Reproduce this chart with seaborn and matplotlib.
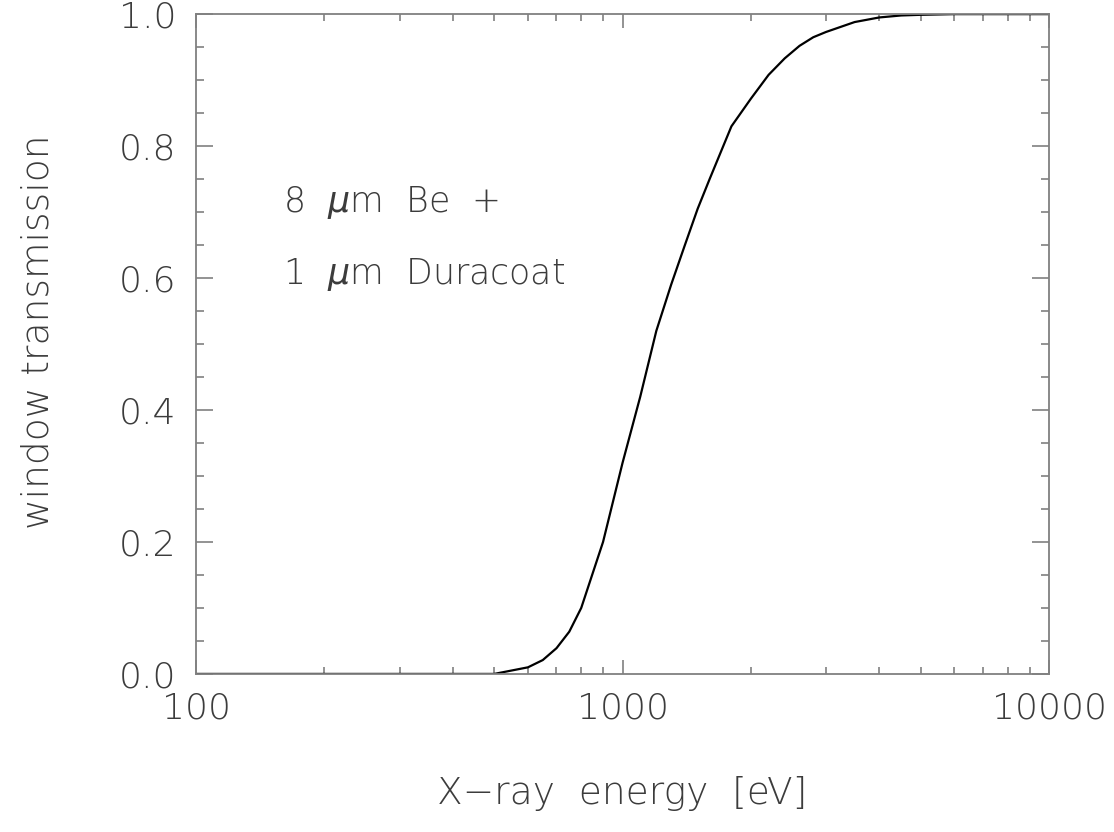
import numpy as np
import pandas as pd
import matplotlib
matplotlib.use("Agg")
import matplotlib.pyplot as plt
import matplotlib.ticker as mticker
import seaborn as sns

energy_ev = [100, 200, 300, 400, 500, 600, 650, 700, 750, 800, 900, 1000, 1100, 1200,
             1300, 1400, 1500, 1600, 1800, 2000, 2200, 2400, 2600, 2800, 3000, 3500,
             4000, 4500, 5000, 6000, 8000, 10000]
transmission = [0.0, 0.0, 0.0, 0.0, 0.0, 0.010, 0.021, 0.039, 0.064, 0.10, 0.20, 0.32,
                0.42, 0.52, 0.59, 0.65, 0.705, 0.75, 0.83, 0.872, 0.908, 0.933, 0.952,
                0.965, 0.973, 0.988, 0.995, 0.998, 0.999, 1.0, 1.0, 1.0]
y_ticks = [0.0, 0.2, 0.4, 0.6, 0.8, 1.0]
y_ticklabels = ["0.0", "0.2", "0.4", "0.6", "0.8", "1.0"]
x_ticks = [100, 1000, 10000]
x_ticklabels = ["100", "1000", "10000"]
annotation_lines = ["8  $\\mu$m  Be  +", "1  $\\mu$m  Duracoat"]

sns.set_style("ticks")
plt.rcParams['font.family'] = ['DejaVu Sans']
plt.rcParams['font.weight'] = 200
plt.rcParams['mathtext.fontset'] = 'custom'
plt.rcParams['mathtext.it'] = 'DejaVu Sans:style=italic:weight=200'
plt.rcParams['mathtext.rm'] = 'DejaVu Sans:weight=200'

df = pd.DataFrame({"energy": energy_ev, "trans": transmission})

fig = plt.figure(figsize=(11.14, 8.32), dpi=100)
ax = fig.add_axes([0.176, 0.19, 0.7657, 0.793])

sns.lineplot(data=df, x="energy", y="trans", ax=ax, color="black", linewidth=1.6)

ax.set_xscale("log")
ax.set_xlim(100, 10000)
ax.set_ylim(0, 1.0)

txt_color = "#3c3c3c"
ax.set_xticks(x_ticks)
ax.set_xticklabels(x_ticklabels)
ax.xaxis.set_minor_locator(mticker.LogLocator(base=10, subs=np.arange(2, 10)))
ax.xaxis.set_minor_formatter(mticker.NullFormatter())
ax.set_yticks(y_ticks)
ax.set_yticklabels(y_ticklabels)
ax.yaxis.set_minor_locator(mticker.MultipleLocator(0.05))

for s in ax.spines.values():
    s.set_color("#808080")
    s.set_linewidth(1.3)
    s.set_visible(True)

ax.tick_params(axis="both", which="both", direction="in", top=True, right=True,
               color="#808080", width=1.2, labelcolor=txt_color, labelsize=26)
ax.tick_params(axis="x", which="major", length=10, pad=13)
ax.tick_params(axis="x", which="minor", length=5)
ax.tick_params(axis="y", which="major", length=12, pad=14)
ax.tick_params(axis="y", which="minor", length=6)
for lab in ax.get_xticklabels() + ax.get_yticklabels():
    lab.set_fontweight(200)

ax.set_xlabel("X\u2212ray  energy  [eV]", fontsize=27, color=txt_color, labelpad=36,
              fontweight=200)
ax.set_ylabel("window transmission", fontsize=27, color=txt_color,
              fontweight=200)
ax.yaxis.set_label_coords(-0.165, 0.518)

ax.text(0.102, 0.715, annotation_lines[0], transform=ax.transAxes, fontsize=25,
        color=txt_color, va="center", ha="left", fontweight=200)
ax.text(0.102, 0.605, annotation_lines[1], transform=ax.transAxes, fontsize=25,
        color=txt_color, va="center", ha="left", fontweight=200)

fig.savefig("out.png", dpi=100, facecolor="white")
